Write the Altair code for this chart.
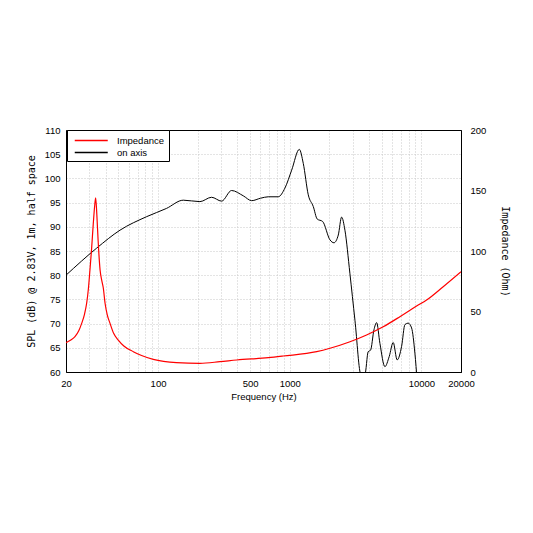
import altair as alt
import pandas as pd

# SPL on axis (dB)
spl_freq = [20, 34.2, 51.4, 82, 116, 155.6, 208, 255, 304, 362, 444, 514, 600, 687, 818, 920,
            1035, 1183, 1268, 1384, 1510, 1618, 1779, 2022, 2168, 2339, 2479, 2627, 2865,
            3130, 3476, 3725, 3945, 4113, 4364, 4574, 4845, 5285, 5700, 6110, 6548, 7078,
            7500, 7940, 8430, 8930, 9300]
spl_db = [80.0, 85.6, 89.3, 92.1, 93.8, 95.5, 95.2, 96.1, 95.3, 97.5, 96.4, 95.4, 95.9, 96.2, 96.2, 98.0,
          101.7, 106.0, 103.1, 96.6, 94.2, 91.6, 91.1, 87.3, 86.7, 88.3, 92.0, 89.3, 80.4,
          70.7, 59.5, 59.5, 64.2, 64.5, 68.7, 70.2, 65.9, 61.1, 63.2, 66.1, 62.5, 65.3,
          69.8, 70.1, 69.1, 63.9, 58.0]

# Impedance (Ohm)
imp_freq = [20, 21.6, 23.4, 25.0, 26.3, 27.6, 28.7, 29.6, 30.4, 31.3, 32.2, 33.0, 33.6, 34.3, 35.1,
            36.3, 37.4, 38.4, 39.6, 41.2, 43.2, 46.0, 49.9, 55, 64.9, 75, 92, 110, 138,
            208, 295, 396, 687, 894, 1604, 2022, 2870, 3836, 5130, 6870, 9200, 10960, 14650, 20000]
imp_ohm = [24.2, 26.2, 29.2, 34.0, 40.2, 47.5, 56.8, 69.0, 84.3, 102, 122, 137, 144, 130, 108,
           84.3, 75.5, 69.4, 56.8, 47.0, 40.2, 32.0, 26.4, 21.5, 16.8, 13.6, 10.5, 8.8, 7.7,
           7.2, 8.5, 9.9, 11.8, 13.2, 16.8, 19.6, 25.0, 30.6, 37.4, 45.7, 54.5, 59.5, 70.5, 82.9]

series_names = ["Impedance", "on axis"]
series_colors = ["#ff0000", "#000000"]

grid_values = [20, 30, 40, 50, 60, 70, 80, 90, 100, 200, 300, 400, 500, 600, 700, 800, 900,
               1000, 2000, 3000, 4000, 5000, 6000, 7000, 8000, 9000, 10000, 20000]
label_values = [20, 100, 500, 1000, 10000, 20000]

spl_df = pd.DataFrame({"f": spl_freq, "v": spl_db, "s": "on axis"})
imp_df = pd.DataFrame({"f": imp_freq, "v": imp_ohm, "s": "Impedance"})

FONT = "Liberation Sans"
MONO = "DejaVu Sans Mono"
GRID = "#c8c8c8"

x_scale = alt.Scale(type="log", domain=[20, 20000], nice=False)

x_bottom = alt.X(
    "f:Q", scale=x_scale,
    axis=alt.Axis(
        title="Frequency (Hz)", values=grid_values, format="d",
        labelExpr="indexof(" + str(label_values) + ", datum.value) >= 0 ? datum.label : ''",
        grid=True, gridDash=[1, 2], gridColor=GRID, ticks=False, labelOverlap=False,
        labelFlush=False, labelPadding=6, titlePadding=4, domainColor="#000000",
        titleFont=FONT, titleFontSize=9.5,
    ),
)
x_top = alt.X(
    "f:Q", scale=x_scale,
    axis=alt.Axis(orient="top", title=None, labels=False, ticks=False, grid=False,
                  domainColor="#000000"),
)

color_enc = alt.Color(
    "s:N",
    scale=alt.Scale(domain=series_names, range=series_colors),
    legend=alt.Legend(
        title=None, orient="none", legendX=1, legendY=0,
        symbolType="M-0.5,0H5.5", symbolSize=121,
        symbolStrokeWidth=1.4, strokeColor="#000000", fillColor="#ffffff",
        padding=4, labelFont=FONT, labelFontSize=9.5, labelColor="#000000", rowPadding=1,
        labelOffset=33, symbolOffset=0,
    ),
)

spl_line = alt.Chart(spl_df).mark_line(strokeWidth=1, clip=True, interpolate="monotone").encode(
    x=x_bottom,
    y=alt.Y("v:Q", scale=alt.Scale(domain=[60, 110], nice=False),
            axis=alt.Axis(title="SPL (dB) @ 2.83V, 1m, half space", values=list(range(60, 111, 5)),
                          grid=True, gridDash=[1, 2], gridColor=GRID, ticks=False,
                          labelPadding=6, titlePadding=8, domainColor="#000000",
                          titleFont=MONO, titleFontSize=10)),
    color=color_enc,
    order=alt.Order("f:Q"),
)

imp_line = alt.Chart(imp_df).mark_line(strokeWidth=1.2, clip=True, interpolate="monotone").encode(
    x=x_top,
    y=alt.Y("v:Q", scale=alt.Scale(domain=[0, 200], nice=False),
            axis=alt.Axis(title="Impedance (Ohm)", orient="right", values=[0, 50, 100, 150, 200],
                          grid=False, ticks=False, labelPadding=9, titlePadding=14,
                          domainColor="#000000", titleFont=MONO, titleFontSize=10)),
    color=color_enc,
    order=alt.Order("f:Q"),
)

chart = alt.layer(spl_line, imp_line).resolve_scale(y="independent").resolve_axis(
    x="independent"
).properties(
    width=395, height=242,
    autosize=alt.AutoSizeParams(type="none"),
    padding={"left": 58, "top": 122, "right": 64, "bottom": 150},
).configure_view(stroke="#000000", strokeWidth=1).configure_axis(
    labelFont=FONT, labelFontSize=9.5, labelColor="#000000",
    titleFontWeight="normal", titleColor="#000000",
)

chart.save("out.html", embed_options={"renderer": "svg", "actions": False})
